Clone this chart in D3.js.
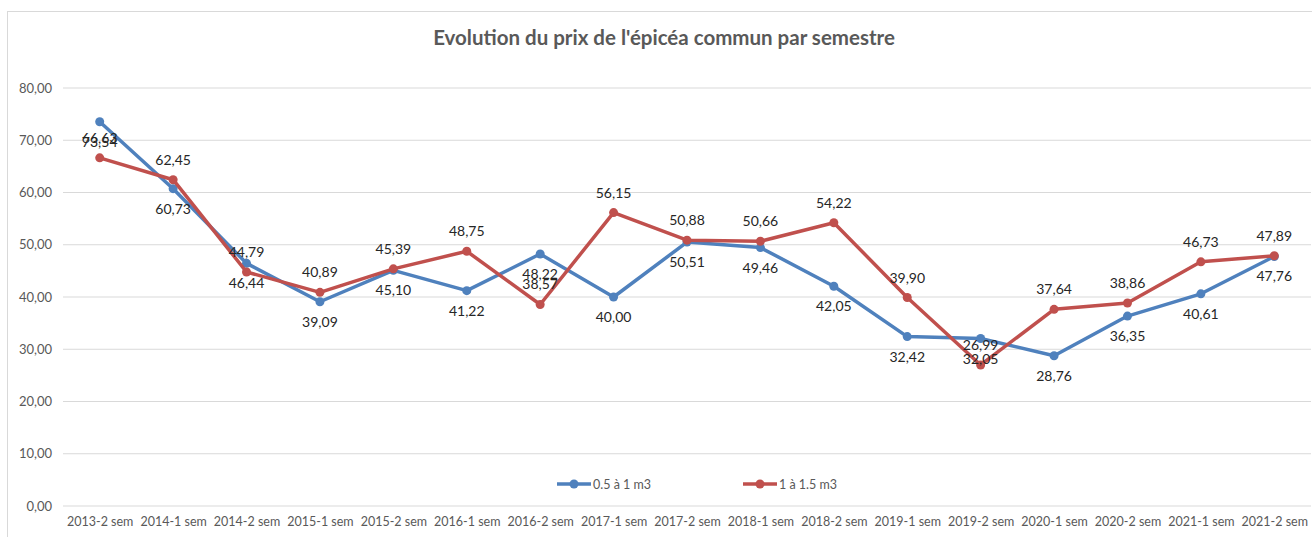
<!DOCTYPE html>
<html>
<head>
<meta charset="utf-8">
<script src="https://cdn.jsdelivr.net/npm/d3@7"></script>
<style>
  body { margin: 0; background: #fff; }
  svg { display: block; font-family: Lato, "Open Sans", sans-serif; }
</style>
</head>
<body>
<div class="chart"></div>
<script>
var categories = ["2013-2 sem", "2014-1 sem", "2014-2 sem", "2015-1 sem", "2015-2 sem", "2016-1 sem",
    "2016-2 sem", "2017-1 sem", "2017-2 sem", "2018-1 sem", "2018-2 sem", "2019-1 sem",
    "2019-2 sem", "2020-1 sem", "2020-2 sem", "2021-1 sem", "2021-2 sem"];

var small = [73.54, 60.73, 46.44, 39.09, 45.10, 41.22, 48.22, 40.00, 50.51, 49.46, 42.05, 32.42, 32.05, 28.76, 36.35, 40.61, 47.76];
var big = [66.63, 62.45, 44.79, 40.89, 45.39, 48.75, 38.57, 56.15, 50.88, 50.66, 54.22, 39.90, 26.99, 37.64, 38.86, 46.73, 47.89];

var yTicks = [0, 10, 20, 30, 40, 50, 60, 70, 80];

var series = [
    {name: "0.5 à 1 m3", values: small, color: "#4F81BD", labelDy: 25},
    {name: "1 à 1.5 m3", values: big, color: "#C0504D", labelDy: -15}
];

var W = 1312, H = 537;
var margin = {top: 88, right: 1, bottom: 31, left: 63};
var width = W - margin.left - margin.right,
    height = H - margin.top - margin.bottom;

var fmt = function(v){ return d3.format(".2f")(v).replace(".", ","); };

var svg = d3.select(".chart").append("svg")
    .attr("width", W)
    .attr("height", H);

// chart area border
svg.append("rect")
    .attr("x", 7.5).attr("y", 11.5)
    .attr("width", W + 10).attr("height", H + 10)
    .attr("fill", "none")
    .attr("stroke", "#D9D9D9");

svg.append("text")
    .attr("x", 664).attr("y", 45)
    .attr("text-anchor", "middle")
    .attr("font-size", 20.5)
    .attr("font-weight", "bold")
    .attr("fill", "#595959")
    .text("Evolution du prix de l'épicéa commun par semestre");

var g = svg.append("g")
    .attr("transform", "translate(" + margin.left + "," + margin.top + ")");

var x = d3.scalePoint()
    .domain(categories)
    .range([0, width])
    .padding(0.5);

var y = d3.scaleLinear()
    .domain([0, 80])
    .range([height, 0]);

// gridlines
g.append("g")
    .selectAll("line")
    .data(yTicks)
    .enter().append("line")
    .attr("x1", 0).attr("x2", width)
    .attr("y1", function(d){ return y(d); })
    .attr("y2", function(d){ return y(d); })
    .attr("stroke", "#D9D9D9")
    .attr("stroke-width", 1);

var yAxis = d3.axisLeft(y).tickValues(yTicks).tickSize(0).tickPadding(11).tickFormat(fmt);
g.append("g")
    .attr("class", "y-Axis")
    .call(yAxis)
    .call(function(a){ a.select(".domain").remove(); })
    .selectAll("text")
    .attr("font-size", 13)
    .attr("fill", "#595959")
    .style("font-family", "Lato, sans-serif");

var xAxis = d3.axisBottom(x).tickSize(0).tickPadding(11);
g.append("g")
    .attr("class", "x-Axis")
    .attr("transform", "translate(0," + height + ")")
    .call(xAxis)
    .call(function(a){ a.select(".domain").remove(); })
    .selectAll("text")
    .attr("font-size", 12.5)
    .attr("fill", "#595959")
    .style("font-family", "Lato, sans-serif");

var line = d3.line()
    .x(function(d, i){ return x(categories[i]); })
    .y(function(d){ return y(d); });

series.forEach(function(s){
    g.append("path")
        .datum(s.values)
        .attr("d", line)
        .attr("fill", "none")
        .attr("stroke", s.color)
        .attr("stroke-width", 3.5)
        .attr("stroke-linejoin", "round");

    g.selectAll(null)
        .data(s.values)
        .enter().append("circle")
        .attr("cx", function(d, i){ return x(categories[i]); })
        .attr("cy", function(d){ return y(d); })
        .attr("r", 4.5)
        .attr("fill", s.color);
});

series.forEach(function(s){
    g.selectAll(null)
        .data(s.values)
        .enter().append("text")
        .attr("x", function(d, i){ return x(categories[i]); })
        .attr("y", function(d){ return y(d) + s.labelDy; })
        .attr("text-anchor", "middle")
        .attr("font-size", 14)
        .attr("fill", "#262626")
        .text(fmt);
});

// legend
var legend = svg.append("g");
var legX = [557, 743];
series.forEach(function(s, i){
    var lg = legend.append("g").attr("transform", "translate(" + legX[i] + ",484)");
    lg.append("line").attr("x1", 0).attr("x2", 34).attr("stroke", s.color).attr("stroke-width", 3.5);
    lg.append("circle").attr("cx", 17).attr("r", 4.5).attr("fill", s.color);
    lg.append("text").attr("x", 36).attr("y", 4.5)
        .attr("font-size", 12.5).attr("fill", "#595959")
        .text(s.name);
});
</script>
</body>
</html>
